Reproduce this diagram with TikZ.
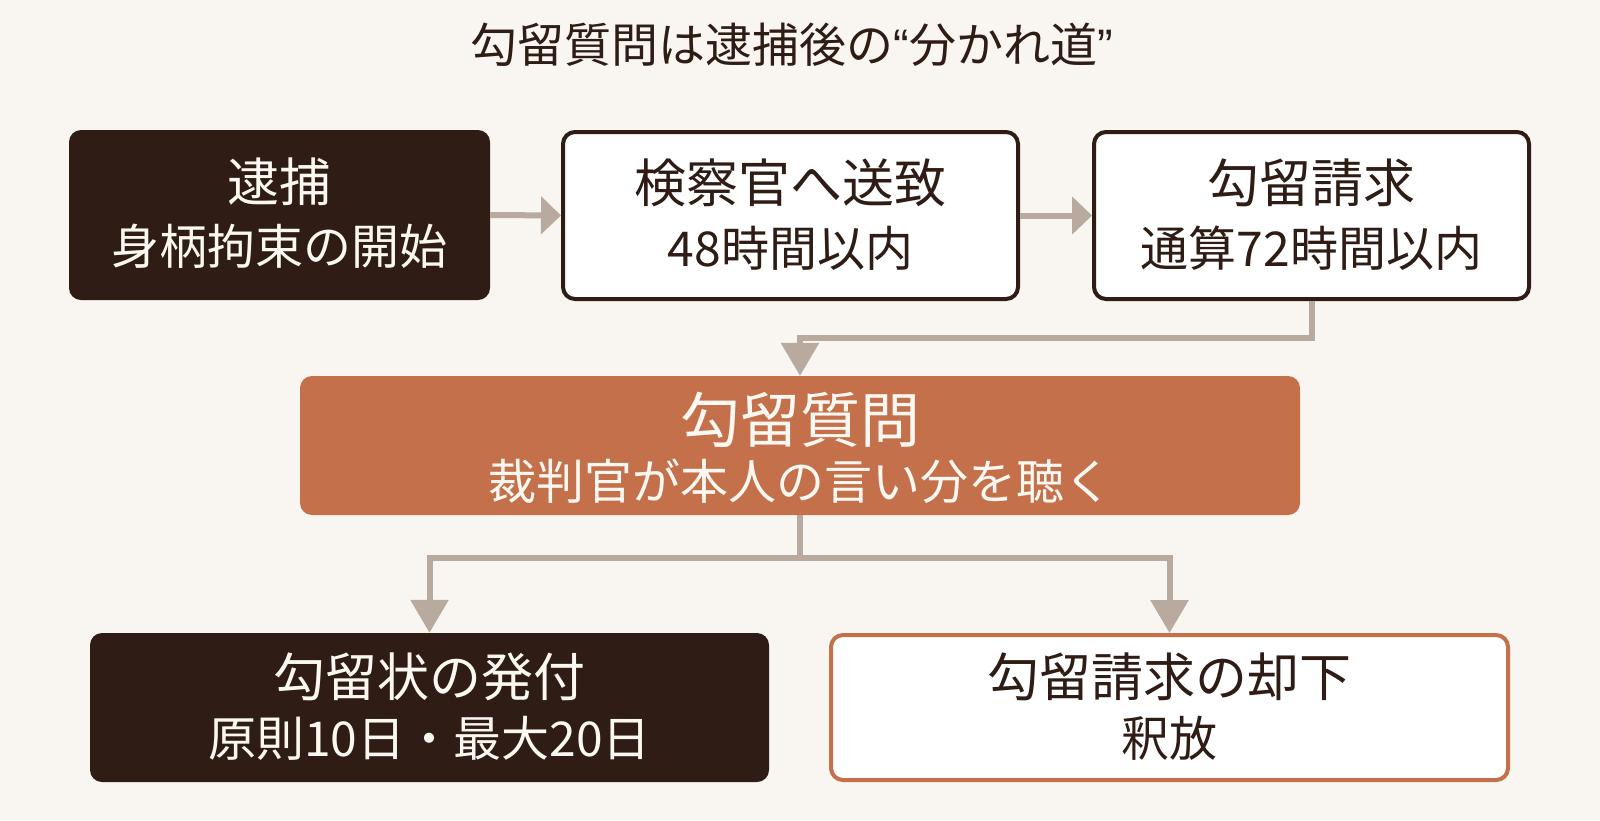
\documentclass[tikz,border=0pt]{standalone}
\usepackage{fontspec}
\setmainfont{Noto Sans CJK JP}
\newfontfamily\quotefont{Liberation Sans}
\usetikzlibrary{arrows.meta}

\definecolor{bgcream}{HTML}{F9F6F1}
\definecolor{darkbrown}{HTML}{2E1C15}
\definecolor{rust}{HTML}{C4704B}
\definecolor{greige}{HTML}{B8AA9E}
\definecolor{lighttext}{HTML}{FBF7F1}

\tikzset{
    stage/.style={rounded corners=12pt, inner sep=0pt},
    darkstage/.style={stage, fill=darkbrown},
    whitestage/.style={stage, fill=white, draw=darkbrown, line width=4pt},
    headtext/.style={inner sep=0pt, font=\fontsize{52}{60}\selectfont},
    subtext/.style={inner sep=0pt, font=\fontsize{48}{56}\selectfont},
    flow/.style={draw=greige, line width=6pt, -{Triangle[length=20pt,width=37pt]}},
    flowdown/.style={draw=greige, line width=6pt, -{Triangle[length=33pt,width=37pt]}},
}

\begin{document}
\begin{tikzpicture}[x=1pt, y=-1pt]
            \fill[bgcream] (0,0) rectangle (1600,820);
            \useasboundingbox (0,0) rectangle (1600,820);
            \node[inner sep=0pt, text=darkbrown, font=\fontsize{47}{55}\selectfont] (title) at (792,45)
                {勾留質問は逮捕後の{\quotefont “}分かれ道{\quotefont ”}};
            % top row
            \node[darkstage, minimum width=421pt, minimum height=170pt] (arrest) at (279.5,215) {};
            \node[headtext, text=lighttext] (arrestH) at (279.5,182) {逮捕};
            \node[subtext, text=lighttext] (arrestS) at (279.5,246) {身柄拘束の開始};
            \node[whitestage, minimum width=455pt, minimum height=167pt] (police) at (790.5,215.5) {};
            \node[headtext, text=darkbrown] (policeH) at (790.5,183) {検察官へ送致};
            \node[subtext, text=darkbrown] (policeS) at (790.5,248) {48時間以内};
            \node[whitestage, minimum width=435pt, minimum height=167pt] (request) at (1311.5,215.5) {};
            \node[headtext, text=darkbrown] (requestH) at (1311.5,183) {勾留請求};
            \node[subtext, text=darkbrown] (requestS) at (1311.5,248) {通算72時間以内};
            % hearing
            \node[stage, fill=rust, minimum width=1000pt, minimum height=139pt] (hearing) at (800,445.5) {};
            \node[inner sep=0pt, text=lighttext, font=\fontsize{60}{68}\selectfont] (hearingH) at (800,420) {勾留質問};
            \node[subtext, text=lighttext] (hearingS) at (800,481) {裁判官が本人の言い分を聴く};
            % outcomes
            \node[darkstage, minimum width=679pt, minimum height=149pt] (warrant) at (429.5,707.5) {};
            \node[headtext, text=lighttext] (warrantH) at (429.5,677) {勾留状の発付};
            \node[subtext, text=lighttext] (warrantS) at (429.5,738) {原則10日・最大20日};
            \node[stage, fill=white, draw=rust, line width=4pt, minimum width=677pt, minimum height=145pt] (release) at (1169.5,707.5) {};
            \node[headtext, text=darkbrown] (releaseH) at (1169.5,677) {勾留請求の却下};
            \node[subtext, text=darkbrown] (releaseS) at (1169.5,738) {釈放};
            % connectors
            \draw[flow] (arrest.east) -- (police.west);
            \draw[flow] (police.east) -- (request.west);
            \draw[flowdown] (request.south) -- ++(0,37) -| (hearing.north);
            \coordinate (split) at (800,558);
            \draw[flowdown] (hearing.south) -- (split) -| (warrant.north);
            \draw[flowdown] (hearing.south) -- (split) -| (release.north);
\end{tikzpicture}
\end{document}
